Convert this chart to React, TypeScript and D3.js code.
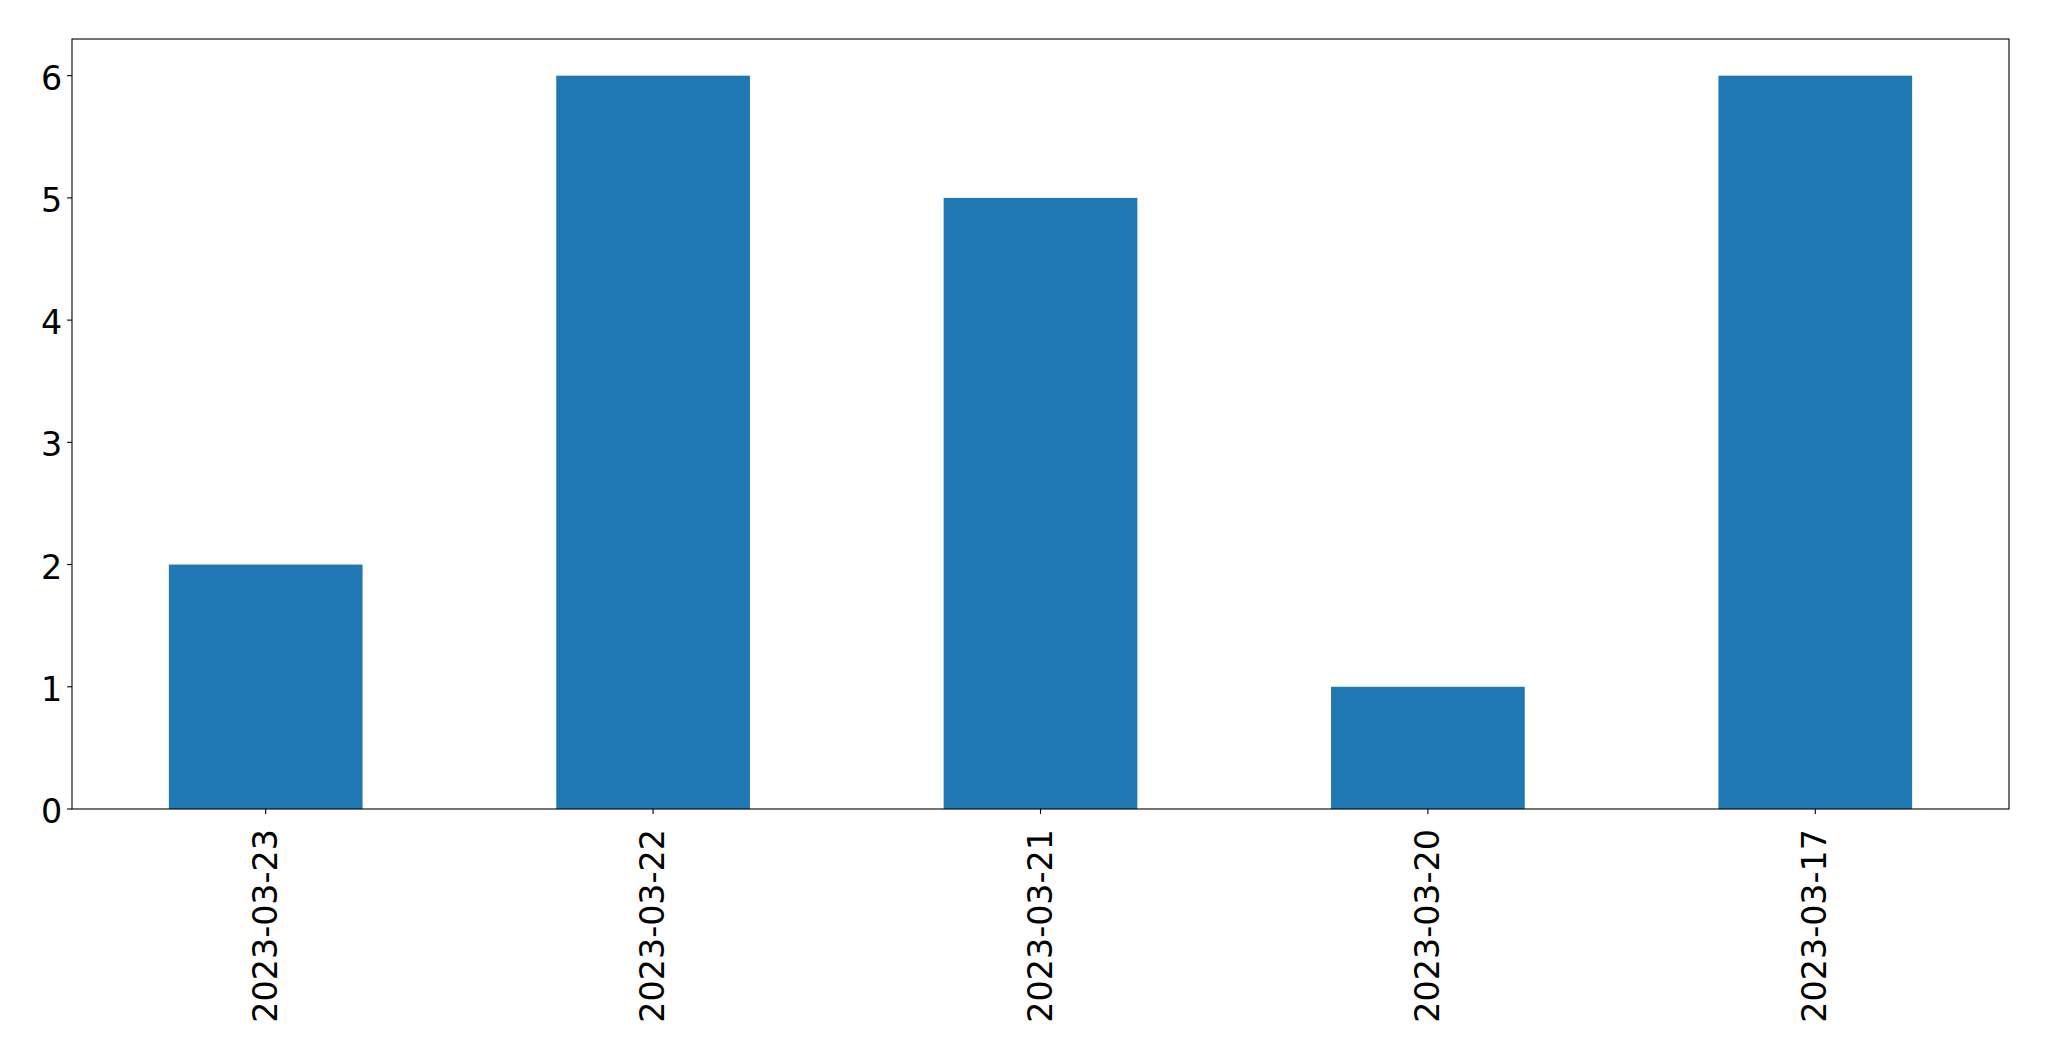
import React, { useEffect, useRef } from "react";
import * as d3 from "d3";

const categories = ["2023-03-23", "2023-03-22", "2023-03-21", "2023-03-20", "2023-03-17"];
const values = [2, 6, 5, 1, 6];
const yTicks = [0, 1, 2, 3, 4, 5, 6];

const W = 2049;
const H = 1061;
const M = { left: 72, right: 2009, top: 39, bottom: 809 };

export default function App() {
  const ref = useRef<SVGSVGElement>(null);
  useEffect(() => {
    document.body.style.margin = "0";
    const svg = d3.select(ref.current);
    svg.selectAll("*").remove();
    const x = d3.scaleBand<string>().domain(categories).range([M.left, M.right]).paddingInner(0.5).paddingOuter(0.25);
    const y = d3.scaleLinear().domain([0, 6.3]).range([M.bottom, M.top]);
    const font = "DejaVu Sans";

    svg.append("g").selectAll("rect").data(values).join("rect")
      .attr("x", (_d, i) => x(categories[i])!)
      .attr("width", x.bandwidth())
      .attr("y", (d) => y(d))
      .attr("height", (d) => y(0) - y(d))
      .attr("fill", "#1f77b4");

    // frame
    svg.append("rect")
      .attr("x", M.left).attr("y", M.top)
      .attr("width", M.right - M.left).attr("height", M.bottom - M.top)
      .attr("fill", "none").attr("stroke", "#000").attr("stroke-width", 1.1);

    // y ticks
    const gy = svg.append("g");
    yTicks.forEach((t) => {
      gy.append("line").attr("x1", M.left - 4.9).attr("x2", M.left).attr("y1", y(t)).attr("y2", y(t)).attr("stroke", "#000").attr("stroke-width", 1.1);
      gy.append("text").attr("x", M.left - 9.7).attr("y", y(t)).attr("dy", "0.42em")
        .attr("text-anchor", "end").attr("font-family", font).attr("font-size", 33.33).attr("fill", "#000").text(String(t));
    });

    // x ticks
    const gx = svg.append("g");
    categories.forEach((c) => {
      const cx = x(c)! + x.bandwidth() / 2;
      gx.append("line").attr("x1", cx).attr("x2", cx).attr("y1", M.bottom).attr("y2", M.bottom + 4.9).attr("stroke", "#000").attr("stroke-width", 1.1);
      gx.append("text")
        .attr("transform", `translate(${cx},${M.bottom + 20}) rotate(-90)`)
        .attr("x", 0).attr("y", 11)
        .attr("text-anchor", "end").attr("font-family", font).attr("font-size", 33.33).attr("fill", "#000").text(c);
    });
  }, []);
  return <svg ref={ref} width={W} height={H} style={{ position: "absolute", left: 0, top: 0, background: "#fff" }} />;
}
